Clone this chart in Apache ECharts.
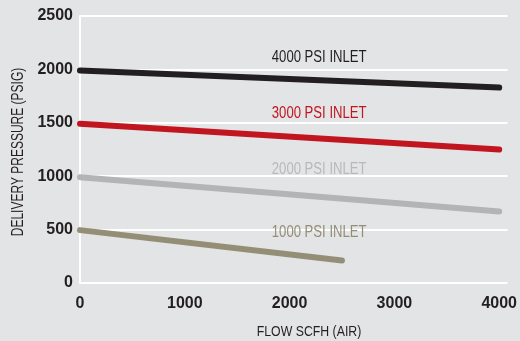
<!DOCTYPE html>
<html><head><meta charset="utf-8">
<script src="https://cdn.jsdelivr.net/npm/echarts@6/dist/echarts.min.js"></script>
<style>html,body{margin:0;padding:0;background:#e3e4e6}#c{width:520px;height:341px}</style>
</head><body><div id="c"></div>
<script>
const seriesNames = ['4000 PSI INLET','3000 PSI INLET','2000 PSI INLET','1000 PSI INLET'];
const flow4000 = [0, 4000];  const psi4000 = [1990, 1830];
const flow3000 = [0, 4000];  const psi3000 = [1490, 1250];
const flow2000 = [0, 4000];  const psi2000 = [990, 670];
const flow1000 = [0, 2500];  const psi1000 = [495, 210];
const xTicks = [0, 1000, 2000, 3000, 4000];
const yTicks = [0, 500, 1000, 1500, 2000, 2500];
const xTitle = 'FLOW SCFH (AIR)';
const yTitle = 'DELIVERY PRESSURE (PSIG)';

const colors = ['#231f20', '#c1161f', '#b3b4b6', '#948e77'];
const labelColors = ['#231f20', '#c1161f', '#b8b9bb', '#948e77'];
const labelAt = [[1830, 2107], [1830, 1583], [1830, 1059], [1830, 473]];
const flows = [flow4000, flow3000, flow2000, flow1000];
const psis = [psi4000, psi3000, psi2000, psi1000];
const txtFont = '15px "Liberation Sans", Arial, sans-serif';
const yFont = '16px "Liberation Sans", Arial, sans-serif';
const lblFont = '16px "Liberation Sans", Arial, sans-serif';
const squeeze = 0.82;

const series = seriesNames.map((n, i) => ({
  name: n, type: 'line', showSymbol: false, silent: true,
  data: flows[i].map((f, j) => [f, psis[i][j]]),
  lineStyle: { color: colors[i], width: 6, cap: 'round' }
}));

const chart = echarts.init(document.getElementById('c'));
chart.setOption({
  backgroundColor: '#e3e4e6',
  animation: false,
  grid: { left: 80, right: 12, top: 16, bottom: 58 },
  xAxis: {
    type: 'value', min: xTicks[0], max: 4080, interval: 1000,
    axisLine: { show: false }, axisTick: { show: false }, splitLine: { show: false },
    axisLabel: { margin: 13, color: '#231f20', fontWeight: 'bold', fontSize: 16, fontFamily: "'Liberation Sans', Arial, sans-serif",
      formatter: v => xTicks.includes(v) ? String(v) : '' }
  },
  yAxis: {
    type: 'value', min: yTicks[0], max: yTicks[yTicks.length - 1], interval: 500,
    axisLine: { show: true, lineStyle: { color: '#ffffff', width: 2 } },
    axisTick: { show: false },
    splitLine: { show: true, lineStyle: { color: '#ffffff', width: 2 } },
    axisLabel: { margin: 7, color: '#231f20', fontWeight: 'bold', fontSize: 16, fontFamily: "'Liberation Sans', Arial, sans-serif",
      formatter: v => String(v) }
  },
  series: series
});

const graphics = seriesNames.map((n, i) => {
  const p = chart.convertToPixel({ gridIndex: 0 }, labelAt[i]);
  return { type: 'text', x: p[0], y: p[1], scaleX: squeeze, silent: true,
    style: { text: n, font: lblFont, fill: labelColors[i], align: 'left', verticalAlign: 'middle' } };
});
graphics.push({ type: 'text', x: 309, y: 332, scaleX: squeeze, silent: true,
  style: { text: xTitle, font: txtFont, fill: '#231f20', align: 'center', verticalAlign: 'middle' } });
graphics.push({ type: 'text', x: 19, y: 152, scaleX: 0.75, rotation: Math.PI / 2, silent: true,
  style: { text: yTitle, font: yFont, fill: '#231f20', align: 'center', verticalAlign: 'middle' } });
chart.setOption({ graphic: graphics });
</script></body></html>
